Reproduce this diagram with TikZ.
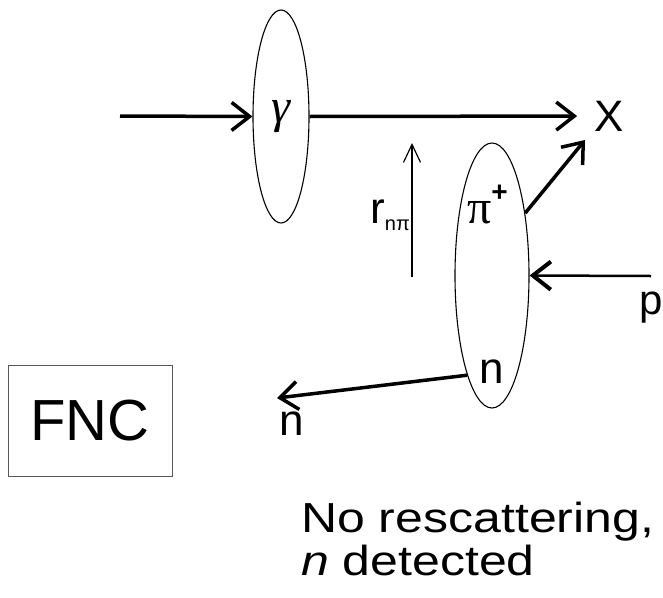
\documentclass[tikz,border=0pt]{standalone}
\usepackage{fontspec}
\setmainfont{Liberation Sans}
\newfontfamily\greekfont{Liberation Serif}
\usetikzlibrary{arrows.meta,shapes.geometric}

\begin{document}
\begin{tikzpicture}[
    x=1pt, y=-1pt,
    oval/.style={ellipse, draw=black, line width=1.1pt, inner sep=0pt},
    txt/.style={inner sep=0pt, font=\fontsize{44}{44}\selectfont},
    beam/.style={-{Straight Barb[length=18pt, width=28pt]}, line width=3.5pt},
    mid/.style={-{Straight Barb[length=18pt, width=28pt, line width=4pt]}, line width=2.5pt},
    slim/.style={-{Straight Barb[length=18pt, width=17pt]}, line width=1.2pt}
]
\useasboundingbox (0,0) rectangle (663,597);

% the two clusters
\node[oval, minimum width=56pt, minimum height=213pt] (gam) at (281,116.5) {\greekfont\itshape\fontsize{48}{48}\selectfont γ};
\node[oval, minimum width=74pt, minimum height=265pt] (pie) at (492,275.5) {};

\node[txt, anchor=base west] (pilab) at (467,223) {{\greekfont\fontsize{48}{48}\selectfont π}\raisebox{22pt}{\fontsize{28}{28}\selectfont\bfseries +}};
\node[txt, anchor=base] (nin) at (492,383) {n};
\node[txt] (X) at (609,116) {X};
\node[txt, anchor=base, font=\fontsize{42}{42}\selectfont] (p) at (651,314) {p};
\node[txt, anchor=base] (nout) at (292,435) {n};
\node[txt, anchor=base east] (rlab) at (410,223) {r\raisebox{-7pt}{\fontsize{20}{20}\selectfont nπ}};

\node[draw=black!65, line width=1pt, minimum width=164pt, minimum height=111pt, inner sep=0pt, font=\fontsize{58}{58}\selectfont] (fnc) at (90,420.5) {FNC};
\node[anchor=base west, align=left, inner sep=0pt, yscale=0.84, transform shape, font=\fontsize{50}{51}\selectfont] (note) at (301,575) {No rescattering,\\\textit{n} detected};

% free ends
\coordinate (gin) at (120,116);
\coordinate (pitip) at (585,140);
\coordinate (pstart) at (651,276);
\coordinate (ntip) at (277,398);
\coordinate (rbot) at (412,277);
\coordinate (rtop) at (412,143);

\draw[beam] (gin) -- (gam.west);
\draw[beam, shorten >=17pt] (gam.east) -- (X);
\draw[beam] (pie.62) -- (pitip);
\draw[mid] (pstart) -- (pie.east);
\draw[beam] (pie.256) -- (ntip);
\draw[slim] (rbot) -- (rtop);
\end{tikzpicture}
\end{document}
